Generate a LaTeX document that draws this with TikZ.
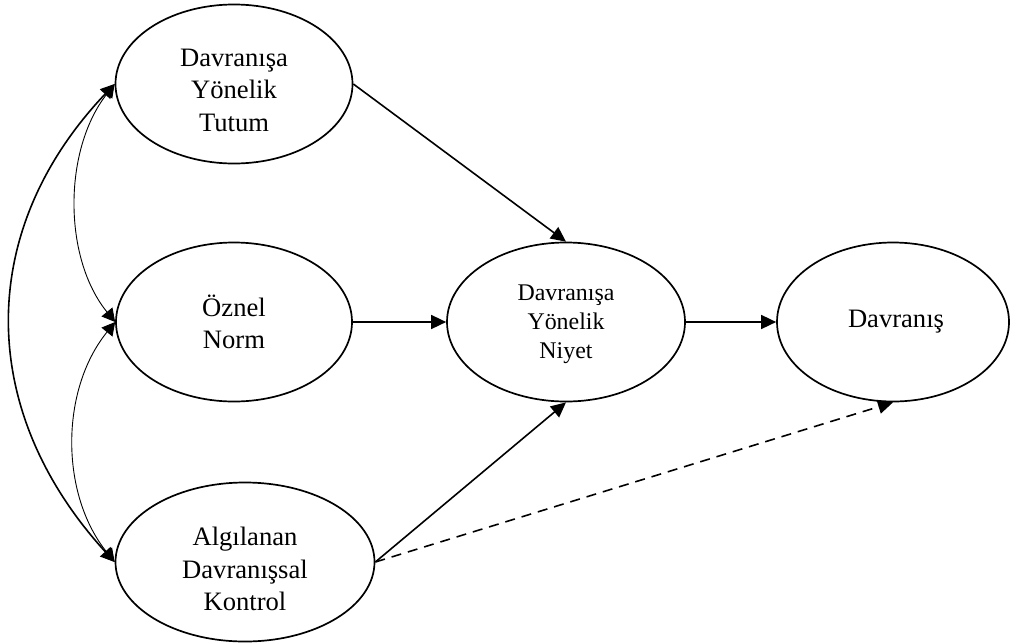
\documentclass[tikz,border=0pt]{standalone}
\usepackage{fontspec}
\setmainfont{Liberation Serif}
\usetikzlibrary{shapes.geometric,arrows.meta}

\tikzset{
  oval/.style={ellipse, draw, line width=1.7pt, inner sep=0pt, minimum height=159pt},
  label26/.style={align=center, inner sep=0pt, font=\fontsize{26.6}{32.5}\selectfont},
  label24/.style={align=center, inner sep=0pt, font=\fontsize{23.9}{29}\selectfont},
  conn/.style={line width=1.6pt, -{Triangle[length=15pt,width=14pt]}},
  dashconn/.style={conn, dash pattern=on 10pt off 7pt},
  corr/.style={line width=0.9pt, {Triangle[length=13pt,width=14pt]}-{Triangle[length=13pt,width=14pt]}},
  corrwide/.style={line width=1.6pt, {Triangle[length=14pt,width=14pt]}-{Triangle[length=14pt,width=14pt]}},
}

\begin{document}
\begin{tikzpicture}[x=1pt, y=-1pt]
  \useasboundingbox (0,0) rectangle (1011,643);

  % constructs
  \node[oval, minimum width=237pt] (A) at (234,84) {};
  \node[oval, minimum width=236pt] (N) at (234,322) {};
  \node[oval, minimum width=259pt] (K) at (245,562) {};
  \node[oval, minimum width=238pt] (I) at (566,322) {};
  \node[oval, minimum width=232pt] (D) at (893,322) {};

  % their captions
  \node[label26] (At) at (234,90) {Davranışa\\Yönelik\\Tutum};
  \node[label26] (Nt) at (234,322) {Öznel\\Norm};
  \node[label26] (Kt) at (245,569) {Algılanan\\Davranışsal\\Kontrol};
  \node[label24] (It) at (566,324) {Davranışa\\Yönelik\\Niyet};
  \node[label26] (Dt) at (896,322) {Davranış};

  % direct paths
  \draw[conn] (A.east) -- (I.north);
  \draw[conn] (N.east) -- (I.west);
  \draw[conn] (K.east) -- (I.south);
  \draw[conn] (I.east) -- (D.west);
  \draw[dashconn] (K.east) -- (D.south);

  % correlations between the three predictors
  \draw[corr] (A.west) .. controls (63,150) and (63,258) .. (N.west);
  \draw[corr] (N.west) .. controls (60,390) and (60,494) .. (K.west);
  \draw[corrwide] (A.west) .. controls (-24,230) and (-24,410) .. (K.west);
\end{tikzpicture}
\end{document}
